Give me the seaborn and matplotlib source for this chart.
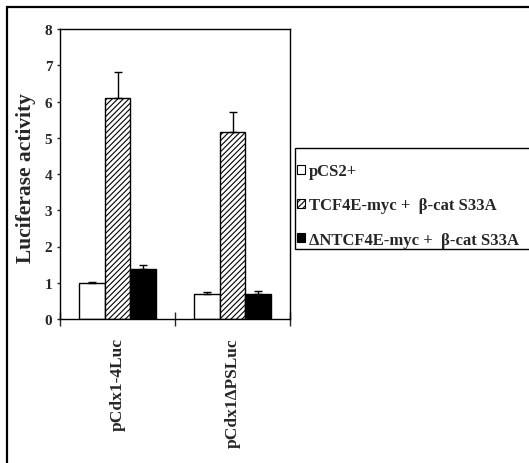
import matplotlib
matplotlib.use("Agg")
import matplotlib.pyplot as plt
from matplotlib.patches import Patch, Rectangle
import seaborn as sns
import pandas as pd
import numpy as np

constructs = ["pCdx1-4Luc", "pCdx1\u0394PSLuc"]
conditions = ["pCS2+", "TCF4E-myc +  \u03b2-cat S33A", "\u0394NTCF4E-myc +  \u03b2-cat S33A"]
pcs2_vals = [1.00, 0.68]
pcs2_err = [0.01, 0.06]
tcf_vals = [6.09, 5.17]
tcf_err = [0.73, 0.53]
dn_vals = [1.39, 0.68]
dn_err = [0.10, 0.10]
yticks = [0, 1, 2, 3, 4, 5, 6, 7, 8]

sns.set_style("white")
plt.rcParams["font.family"] = ["Liberation Serif", "DejaVu Serif"]
plt.rcParams["font.weight"] = "bold"
plt.rcParams["hatch.linewidth"] = 0.8

W, H = 529, 464
fig = plt.figure(figsize=(W / 100, H / 100), dpi=100)
ax = fig.add_axes([60 / W, (H - 320) / H, 230 / W, 290 / H])

df = pd.DataFrame({
    "construct": constructs * 3,
    "condition": [conditions[0]] * 2 + [conditions[1]] * 2 + [conditions[2]] * 2,
    "value": pcs2_vals + tcf_vals + dn_vals,
})
errs = [pcs2_err, tcf_err, dn_err]
fills = ["white", "white", "black"]
hatches = [None, "//////", None]

sns.barplot(data=df, x="construct", y="value", hue="condition", order=constructs,
            hue_order=conditions, palette=fills, edgecolor="black", linewidth=1.0,
            width=0.67, gap=0, errorbar=None, legend=False, ax=ax, saturation=1)

for cont, err, hatch in zip(ax.containers, errs, hatches):
    xs, ys = [], []
    for p in cont.patches:
        if hatch:
            p.set_hatch(hatch)
        xs.append(p.get_x() + p.get_width() / 2)
        ys.append(p.get_height())
    ax.errorbar(xs, ys, yerr=[np.zeros(len(err)), err], fmt="none", ecolor="black",
                elinewidth=1.0, capsize=3, capthick=1.0, zorder=1)

ax.set_xlim(-0.5, 1.5)
ax.set_ylim(0, 8)
ax.set_yticks(yticks)
ax.set_yticklabels([str(t) for t in yticks], fontsize=11, fontweight="bold")
ax.tick_params(axis="y", direction="out", length=2.5, width=1, pad=3, left=True)
ax.set_xticks([0, 1])
ax.set_xticklabels(constructs, rotation=90, fontsize=12.5, fontweight="bold", va="top")
ax.tick_params(axis="x", which="major", length=0, pad=13)
ax.set_xticks([-0.5, 0.5, 1.5], minor=True)
ax.tick_params(axis="x", which="minor", direction="inout", length=10, width=1, bottom=True)
ax.set_xlabel("")
ax.set_ylabel("Luciferase activity", fontsize=15.5, fontweight="bold")
ax.yaxis.set_label_coords(-0.105, 0.49)
for s in ax.spines.values():
    s.set_color("black")
    s.set_linewidth(1.0)

handles = [Patch(facecolor=f, edgecolor="black", hatch=h, linewidth=0.8) for f, h in zip(fills, hatches)]
leg = fig.legend(handles, conditions, loc="upper left", bbox_to_anchor=(297 / W, 1 - 164 / H),
                 frameon=False, borderpad=0, borderaxespad=0, handlelength=0.45, handleheight=0.45,
                 handletextpad=0.25, labelspacing=1.1, prop={"size": 12, "weight": "bold"})

fig.patches.append(Rectangle((295 / W, 1 - 250 / H), 300 / W, 101 / H, transform=fig.transFigure,
                             fill=False, edgecolor="black", linewidth=1.0))
fig.patches.append(Rectangle((6.5 / W, -0.2), 1.2, (1 - 7.5 / H) + 0.2, transform=fig.transFigure,
                             fill=False, edgecolor="black", linewidth=1.6))

fig.savefig("out.png", dpi=100)
